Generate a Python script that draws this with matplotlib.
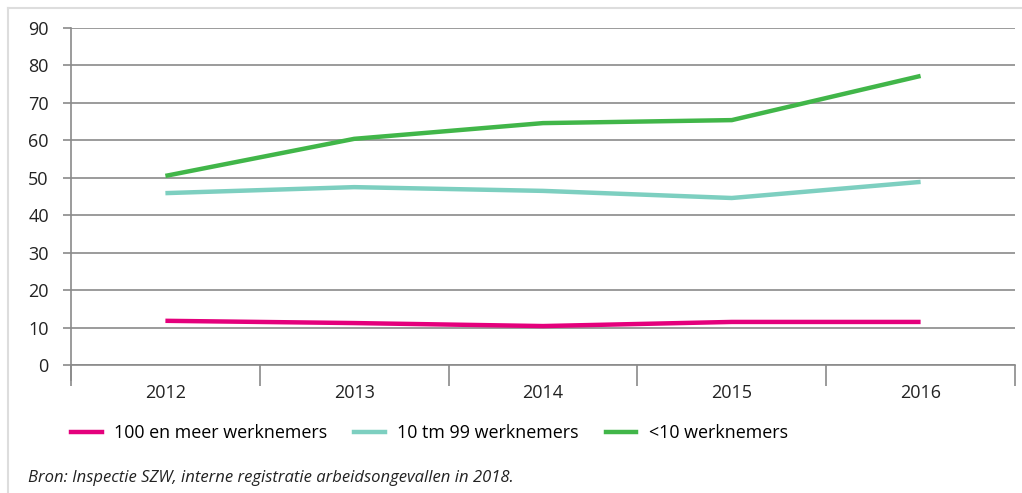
import numpy as np
import matplotlib.pyplot as plt
from matplotlib.lines import Line2D

jaren = ['2012', '2013', '2014', '2015', '2016']
groot = [11.8, 11.2, 10.4, 11.5, 11.5]
midden = [45.9, 47.5, 46.5, 44.6, 48.9]
klein = [50.5, 60.4, 64.6, 65.4, 77.2]
labels = ['100 en meer werknemers', '10 tm 99 werknemers', '<10 werknemers']
kleuren = ['#e4007c', '#7dcfc0', '#41b649']
yticks = list(range(0, 100, 10))

plt.rcParams['font.family'] = ['Open Sans', 'DejaVu Sans']
grijs = '#8a8a8a'

fig = plt.figure(figsize=(10.22, 4.93), dpi=100)
ax = fig.add_axes([71 / 1022, 1 - 365 / 493, (1015 - 71) / 1022, (365 - 28) / 493])

x = np.arange(len(jaren))
for serie, kleur in zip([groot, midden, klein], kleuren):
    ax.plot(x, serie, color=kleur, lw=3.2, solid_capstyle='butt')

ax.set_xlim(-0.5, len(jaren) - 0.5)
ax.set_ylim(0, 90)
ax.set_yticks(yticks)
ax.set_yticklabels([str(v) for v in yticks], fontsize=13, color='#222222')
ax.tick_params(axis='y', length=6, width=1.2, color=grijs, pad=10)
ax.grid(axis='y', color=grijs, lw=1.2)
ax.set_axisbelow(True)

# categorie-labels tussen de streepjes
ax.set_xticks(np.arange(-0.5, len(jaren)), minor=False)
ax.set_xticklabels([])
ax.tick_params(axis='x', length=15, width=1.2, color=grijs)
ax.set_xticks(x, minor=True)
ax.set_xticklabels(jaren, minor=True, fontsize=13, color='#222222')
ax.tick_params(axis='x', which='minor', length=0, pad=14)

for s in ['top', 'right']:
    ax.spines[s].set_visible(False)
for s in ['left', 'bottom']:
    ax.spines[s].set_color(grijs)
    ax.spines[s].set_linewidth(1.2)

# linker as loopt door tot onder de x-streepjes
ax.plot([-0.5, -0.5], [0, -4], color=grijs, lw=1.2, clip_on=False)

handles = [Line2D([], [], color=k, lw=3.2) for k in kleuren]
fig.legend(handles, labels, loc='center left', bbox_to_anchor=(64 / 1022, 1 - 433 / 493),
           ncol=3, frameon=False, fontsize=12.9, handlelength=1.7, handletextpad=0.7,
           columnspacing=1.5, borderaxespad=0, borderpad=0.4)

fig.text(28 / 1022, 1 - 478 / 493,
         'Bron: Inspectie SZW, interne registratie arbeidsongevallen in 2018.',
         fontsize=12, style='italic', color='#222222', va='center')

# lichtgrijze kader links en boven
fig.add_artist(Line2D([8 / 1022, 8 / 1022], [0, 1 - 8 / 493], color='#dddddd', lw=1.5,
                      transform=fig.transFigure))
fig.add_artist(Line2D([8 / 1022, 1], [1 - 8 / 493, 1 - 8 / 493], color='#dddddd', lw=1.5,
                      transform=fig.transFigure))

fig.savefig('out.png', dpi=100)
